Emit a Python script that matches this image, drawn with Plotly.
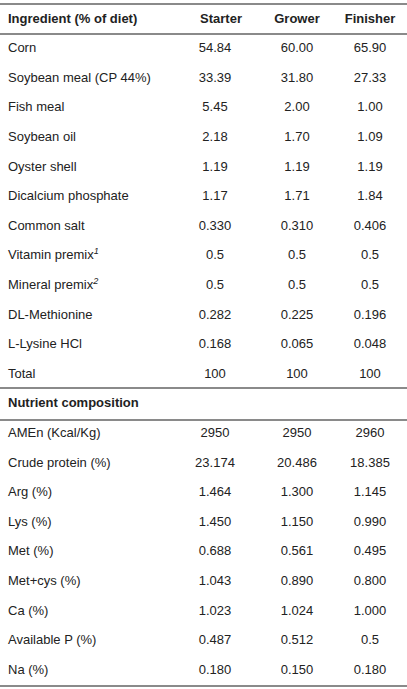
import plotly.graph_objects as go

columns = ["Ingredient (% of diet)", "Starter", "Grower", "Finisher"]
ingredients = ["Corn", "Soybean meal (CP 44%)", "Fish meal", "Soybean oil", "Oyster shell",
               "Dicalcium phosphate", "Common salt", "Vitamin premix<sup><i>1</i></sup>",
               "Mineral premix<sup><i>2</i></sup>", "DL-Methionine", "L-Lysine HCl", "Total"]
starter_ing = ["54.84", "33.39", "5.45", "2.18", "1.19", "1.17", "0.330", "0.5", "0.5", "0.282", "0.168", "100"]
grower_ing = ["60.00", "31.80", "2.00", "1.70", "1.19", "1.71", "0.310", "0.5", "0.5", "0.225", "0.065", "100"]
finisher_ing = ["65.90", "27.33", "1.00", "1.09", "1.19", "1.84", "0.406", "0.5", "0.5", "0.196", "0.048", "100"]
section = "Nutrient composition"
nutrients = ["AMEn (Kcal/Kg)", "Crude protein (%)", "Arg (%)", "Lys (%)", "Met (%)",
             "Met+cys (%)", "Ca (%)", "Available P (%)", "Na (%)"]
starter_nut = ["2950", "23.174", "1.464", "1.450", "0.688", "1.043", "1.023", "0.487", "0.180"]
grower_nut = ["2950", "20.486", "1.300", "1.150", "0.561", "0.890", "1.024", "0.512", "0.150"]
finisher_nut = ["2960", "18.385", "1.145", "0.990", "0.495", "0.800", "1.000", "0.5", "0.180"]

labels = ingredients + [f"<b>{section}</b>"] + nutrients
s = starter_ing + [""] + starter_nut
g = grower_ing + [""] + grower_nut
f = finisher_ing + [""] + finisher_nut
rows = list(range(len(labels)))

font = dict(family="Liberation Sans, Arial", size=13, color="#222")
fig = go.Figure()
fig.add_trace(go.Scatter(x=[8]*len(rows), y=rows, text=labels, mode="text",
                         textposition="middle right", textfont=font, cliponaxis=False))
for xpos, vals in [(215, s), (297, g), (370, f)]:
    fig.add_trace(go.Scatter(x=[xpos]*len(rows), y=rows, text=vals, mode="text",
                             textposition="middle center", textfont=font, cliponaxis=False))
hdr_x = [8, 221, 297, 370]
fig.add_trace(go.Scatter(x=hdr_x, y=[-1]*4, text=[f"<b>{c}</b>" for c in columns], mode="text",
                         textposition=["middle right", "middle center", "middle center", "middle center"],
                         textfont=font, cliponaxis=False))
for yl in [-1.52, -0.507, 11.45, 12.53, 21.52]:
    fig.add_shape(type="line", x0=0, x1=1, xref="paper", y0=yl, y1=yl, yref="y",
                  line=dict(color="#8a8a8a", width=2))
fig.update_layout(width=407, height=689, margin=dict(l=0, r=0, t=0, b=0),
                  paper_bgcolor="white", plot_bgcolor="white", showlegend=False,
                  xaxis=dict(range=[0, 407], visible=False, fixedrange=True),
                  yaxis=dict(range=[21.62, -1.655], visible=False, fixedrange=True))
fig.write_html("out.html", config={"displayModeBar": False},
               post_script="document.body.style.margin='0';document.body.style.overflow='hidden';")
